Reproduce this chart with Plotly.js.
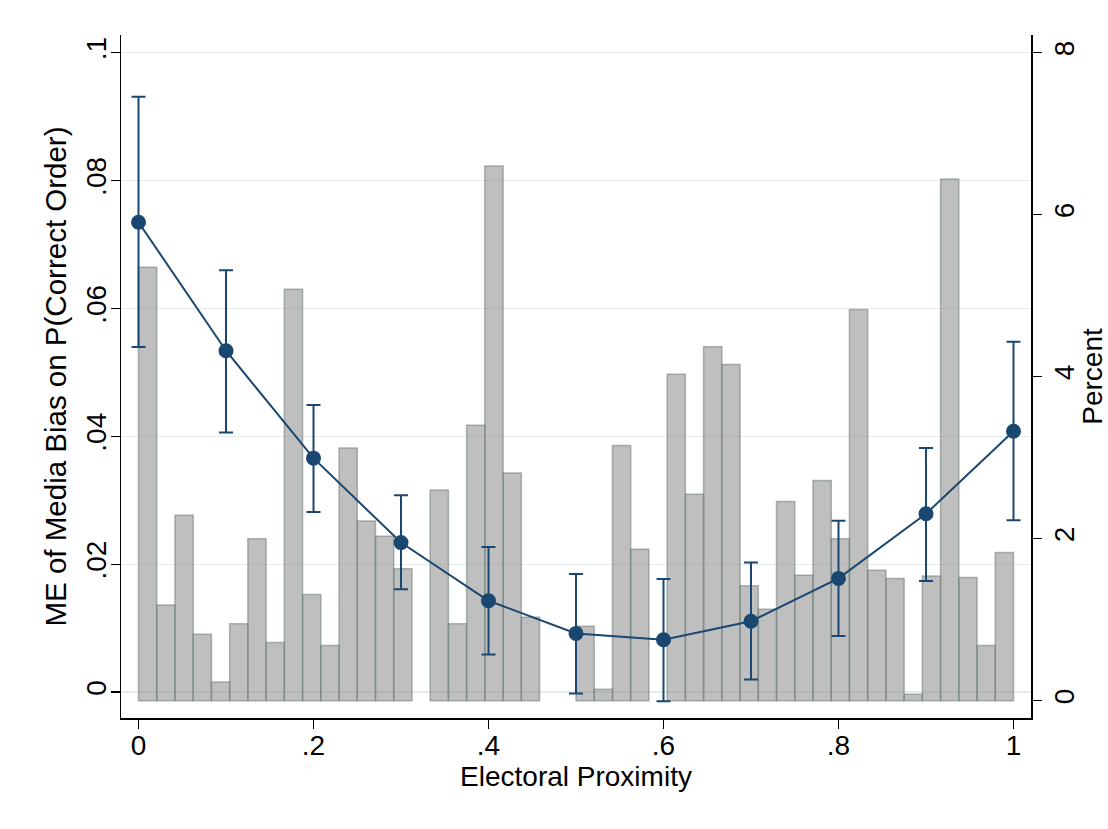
<!DOCTYPE html>
<html>
<head>
<meta charset="utf-8">
<script src="https://cdn.plot.ly/plotly-3.0.1.min.js"></script>
<style>
  html, body { margin: 0; padding: 0; background: #ffffff; }
  #chart { width: 1108px; height: 829px; }
</style>
</head>
<body>
<div id="chart"></div>
<script>
// ---- Data ----
// Histogram of Electoral Proximity (percent per bin), 48 bins over [0, 1]
const binStart = 0;
const binWidth = 1 / 48;
const histPercent = [
  5.35, 1.18, 2.29, 0.82, 0.23, 0.95, 2.00, 0.72, 5.08, 1.31, 0.68, 3.12,
  2.22, 2.03, 1.63, 0.00, 2.60, 0.95, 3.40, 6.60, 2.81, 1.03, 0.00, 0.00,
  0.92, 0.14, 3.15, 1.87, 0.00, 4.03, 2.55, 4.37, 4.15, 1.42, 1.13, 2.46,
  1.55, 2.72, 2.00, 4.83, 1.61, 1.51, 0.08, 1.54, 6.44, 1.52, 0.68, 1.83
];

// Marginal effect of media bias with confidence interval
const proximity = [0, 0.1, 0.2, 0.3, 0.4, 0.5, 0.6, 0.7, 0.8, 0.9, 1.0];
const marginalEffect = [0.0735, 0.0534, 0.0366, 0.0234, 0.0143, 0.0092, 0.0082, 0.0111, 0.0178, 0.0279, 0.0408];
const ciUpper = [0.0931, 0.0660, 0.0449, 0.0308, 0.0227, 0.0185, 0.0177, 0.0203, 0.0268, 0.0382, 0.0548];
const ciLower = [0.0540, 0.0406, 0.0282, 0.0161, 0.0059, -0.0002, -0.0014, 0.0020, 0.0088, 0.0174, 0.0269];

// Tick labels
const xTickVals = [0, 0.2, 0.4, 0.6, 0.8, 1];
const xTickText = ['0', '.2', '.4', '.6', '.8', '1'];
const meTickVals = [0, 0.02, 0.04, 0.06, 0.08, 0.1];
const meTickText = ['0', '.02', '.04', '.06', '.08', '.1'];
const pctTickVals = [0, 2, 4, 6, 8];
const pctTickText = ['0', '2', '4', '6', '8'];

// ---- Derived ----
const binCenters = histPercent.map((_, i) => binStart + (i + 0.5) * binWidth);
const barOutlineWidths = histPercent.map(v => (v > 0 ? 1.5 : 0));
const errPlus = ciUpper.map((u, i) => u - marginalEffect[i]);
const errMinus = ciLower.map((l, i) => marginalEffect[i] - l);

const NAVY = '#1a476f';
const FONT = '"Liberation Sans", Arial, Helvetica, sans-serif';
const FS = 28;

const bars = {
  type: 'bar',
  x: binCenters,
  y: histPercent,
  width: binWidth,
  xaxis: 'x',
  yaxis: 'y',
  marker: {
    color: 'rgba(128,128,128,0.5)',
    line: { color: 'rgba(110,125,120,0.55)', width: barOutlineWidths }
  },
  hoverinfo: 'skip',
  showlegend: false
};

const meLine = {
  type: 'scatter',
  mode: 'lines+markers',
  x: proximity,
  y: marginalEffect,
  xaxis: 'x',
  yaxis: 'y2',
  line: { color: NAVY, width: 2 },
  marker: { color: NAVY, size: 15 },
  error_y: {
    type: 'data',
    symmetric: false,
    array: errPlus,
    arrayminus: errMinus,
    color: NAVY,
    thickness: 2,
    width: 7
  },
  showlegend: false
};

const axisCommon = {
  zeroline: false,
  showline: true,
  linecolor: '#000000',
  linewidth: 1.5,
  ticks: 'outside',
  ticklen: 9,
  tickwidth: 1.5,
  tickcolor: '#000000',
  tickfont: { family: FONT, size: FS },
  automargin: false
};

const layout = {
  width: 1108,
  height: 829,
  autosize: false,
  paper_bgcolor: '#ffffff',
  plot_bgcolor: '#ffffff',
  margin: { l: 121, r: 77, t: 35, b: 111, pad: 0 },
  font: { family: FONT, size: FS, color: '#000000' },
  showlegend: false,
  bargap: 0,
  xaxis: Object.assign({}, axisCommon, {
    range: [-0.02, 1.02],
    tickmode: 'array',
    tickvals: xTickVals,
    ticktext: xTickText,
    showgrid: false,
    ticklabelstandoff: -7,
    title: { text: 'Electoral Proximity', font: { family: FONT, size: FS }, standoff: 4 }
  }),
  yaxis: Object.assign({}, axisCommon, {
    side: 'right',
    range: [-0.2136, 8.2185],
    tickmode: 'array',
    tickvals: pctTickVals,
    ticktext: pctTickText,
    showgrid: false,
    tickangle: -90,
    ticklabelstandoff: -1,
    title: { text: 'Percent', font: { family: FONT, size: FS }, standoff: 6 }
  }),
  yaxis2: Object.assign({}, axisCommon, {
    side: 'left',
    overlaying: 'y',
    range: [-0.00403, 0.10277],
    tickmode: 'array',
    tickvals: meTickVals,
    ticktext: meTickText,
    showgrid: true,
    gridcolor: '#e3ecef',
    gridwidth: 1.5,
    tickangle: -90,
    ticklabelstandoff: -7,
    title: { text: 'ME of Media Bias on P(Correct Order)', font: { family: FONT, size: 29.5 }, standoff: 6 }
  })
};

Plotly.newPlot('chart', [bars, meLine], layout, { displayModeBar: false, staticPlot: true });
</script>
</body>
</html>
